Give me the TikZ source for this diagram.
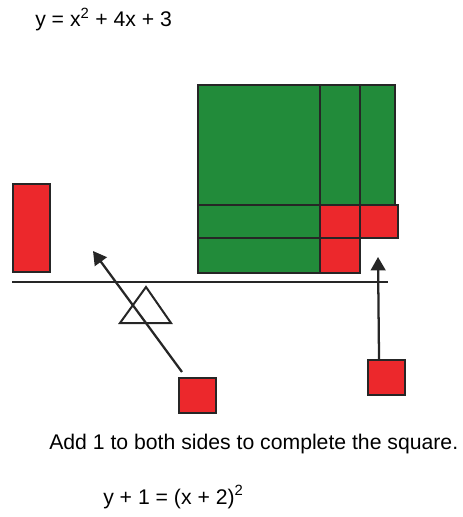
\documentclass[tikz,border=0pt]{standalone}
\usepackage{fontspec}
\setmainfont{Liberation Sans}
\usetikzlibrary{arrows.meta, positioning}

\definecolor{tilegreen}{RGB}{34,139,58}
\definecolor{tilered}{RGB}{236,40,44}

\tikzset{
  tile/.style={draw=black!85, line width=1.8pt},
  unit/.style={tile, fill=tilered, inner sep=0pt, minimum width=27.5pt, minimum height=26pt},
  push/.style={draw=black!85, line width=1.7pt, -{Triangle[length=10pt, width=11pt]}},
  label/.style={font=\fontsize{15.9}{19}\selectfont, inner sep=0pt}
}

\begin{document}
\begin{tikzpicture}[x=0.75pt, y=-0.75pt]
\useasboundingbox (0,0) rectangle (463,517);

        % x^2 tile
        \draw[tile, fill=tilegreen] (198,85) rectangle (320,205);

        % x tiles
        \draw[tile, fill=tilegreen] (320,85) rectangle (360,205);
        \draw[tile, fill=tilegreen] (360,85) rectangle (395,205);
        \draw[tile, fill=tilegreen] (198,205) rectangle (320,238);
        \draw[tile, fill=tilegreen] (198,238) rectangle (320,273);

        % unit tiles
        \draw[tile, fill=tilered] (320,205) rectangle (360,238);
        \draw[tile, fill=tilered] (360,205) rectangle (398,238);
        \draw[tile, fill=tilered] (320,238) rectangle (360,273);

        % y tile
        \node[unit, minimum height=66pt, anchor=north west] (ytile) at (12,183) {};

        % Balance
        \draw[line width=1.5pt, black!85] (12,282) -- (388,282);
        \draw[line width=1.5pt, black!85] (146,287) -- (120,323) -- (171,323) -- cycle;

        % Moving unit tiles
        \node[unit, anchor=north west] (unitdrop) at (178,377) {};
        \node[unit, anchor=north west] (unitlift) at (367,359) {};

        \coordinate (droptip) at (93,251);
        \coordinate (lifttip) at (378,257);

        \draw[push] ([shift={(4,-5)}]unitdrop.north west) -- (droptip);
        \draw[push] ([shift={(-7.5,0)}]unitlift.north) -- (lifttip);

        % Labels
        \node[label, anchor=base west] (eqtop) at (35,27)
            {y = x\textsuperscript{2} + 4x + 3};

        \node[label, anchor=base west] (eqhint) at (49,449)
            {Add 1 to both sides to complete the square.};

        \node[label, anchor=base west] (eqdone) at (103,504)
            {y + 1 = (x + 2)\textsuperscript{2}};

\end{tikzpicture}
\end{document}
